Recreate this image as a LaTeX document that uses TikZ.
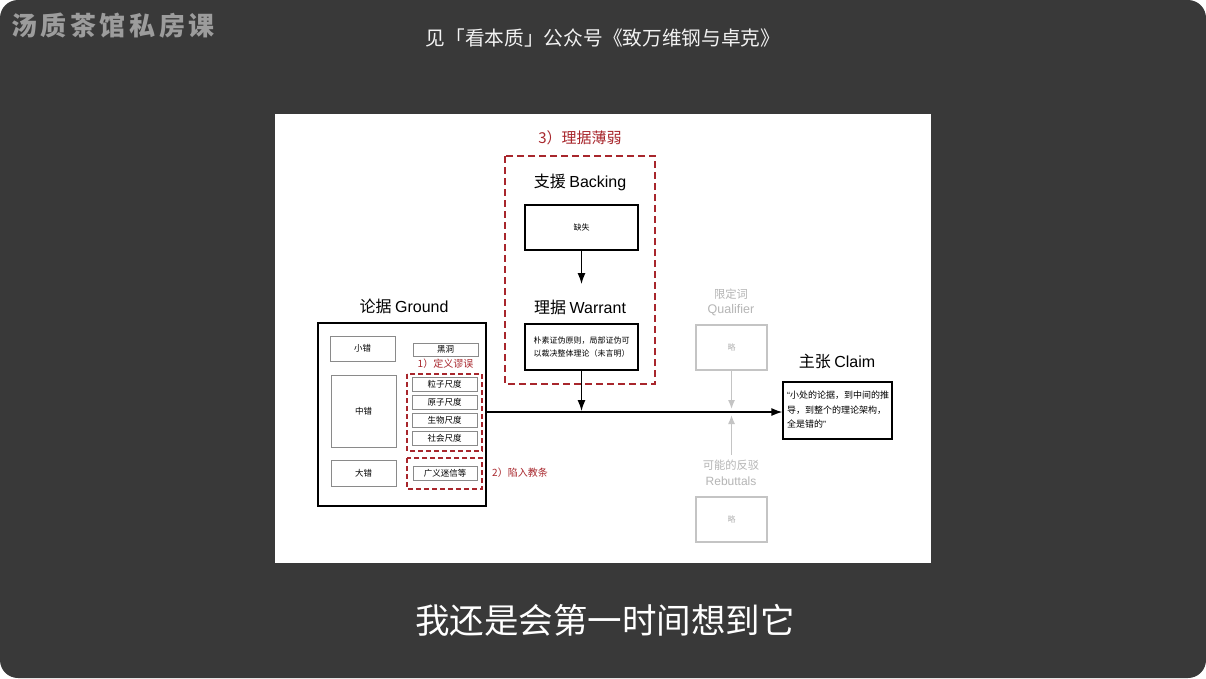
\documentclass[tikz,border=0pt]{standalone}
\usepackage{fontspec}
\setmainfont{Noto Sans CJK SC}
\newfontfamily\latf{Liberation Sans}
\usetikzlibrary{arrows.meta}
\definecolor{bgdark}{HTML}{393939}
\definecolor{redc}{HTML}{A8262C}
\definecolor{lgray}{HTML}{B5B5B5}
\definecolor{bgray}{HTML}{C4C4C4}
\definecolor{logogray}{HTML}{9C9C9C}
\definecolor{sgray}{HTML}{8A8A8A}
\tikzset{
  mainbox/.style={draw=black, line width=1.3pt, fill=white, inner sep=0pt, font=\fontsize{8}{13}\selectfont, align=center},
  subbox/.style={draw=sgray, line width=0.8pt, fill=white, inner sep=0pt, font=\fontsize{8.5}{10}\selectfont},
  graybox/.style={draw=bgray, line width=1.4pt, fill=white, inner sep=0pt, text=lgray, font=\fontsize{8}{10}\selectfont},
  title/.style={font=\fontsize{16}{18}\selectfont, inner sep=0pt},
  redtxt/.style={text=redc, inner sep=0pt},
  graytxt/.style={text=lgray, inner sep=0pt, font=\fontsize{11.3}{13}\selectfont},
  reddash/.style={draw=redc, line width=1.4pt, dash pattern=on 7pt off 4pt},
  arr/.style={line width=1.3pt, -{Latex[length=11pt,width=8pt]}},
  garr/.style={draw=bgray, line width=1.3pt, -{Latex[length=9pt,width=7pt]}},
}
\begin{document}
\begin{tikzpicture}[x=1pt,y=-1pt]
\useasboundingbox (0,0) rectangle (1206,678);
\fill[white] (0,0) rectangle (1206,678);
\fill[bgdark, rounded corners=18pt] (0,0) rectangle (1206,678);
% logo and titles
\node[anchor=west, text=logogray, inner sep=0pt, font=\fontsize{26}{28}\selectfont\bfseries] (logo) at (11,26)
  {汤\hspace{3.6pt}质\hspace{3.6pt}茶\hspace{3.6pt}馆\hspace{3.6pt}私\hspace{3.6pt}房\hspace{3.6pt}课};
\node[text=white!95!black, inner sep=0pt, font=\fontsize{19.7}{22}\selectfont] (top) at (603,38) {见「看本质」公众号《致万维钢与卓克》};
\node[text=white, inner sep=0pt, font=\fontsize{34.5}{38}\selectfont] (sub) at (605,620) {我还是会第一时间想到它};
% panel
\fill[white] (275,114) rectangle (931,563);
% warrant group
\node[redtxt, font=\fontsize{15}{17}\selectfont] (weak) at (580,138) {3）理据薄弱};
\draw[reddash] (505,156) rectangle (655,384);
\node[title] (backlbl) at (580,182) {支援 {\latf Backing}};
\node[mainbox, minimum width=113pt, minimum height=45pt] (back) at (581.5,227.5) {缺失};
\node[title] (warlbl) at (580,307) {理据 {\latf Warrant}};
\coordinate (wartop) at (581.5,284);
\node[mainbox, minimum width=113pt, minimum height=46pt] (war) at (581.5,347) {朴素证伪原则，局部证伪可\\以裁决整体理论（未言明）};
\draw[arr] (back.south) -- (wartop);
% ground
\node[title] (gndlbl) at (404,306) {论据 {\latf Ground}};
\node[draw=black, line width=1.4pt, minimum width=168pt, minimum height=183pt, inner sep=0pt] (gnd) at (402,414.5) {};
\node[subbox, minimum width=65pt, minimum height=25pt] (small) at (362.5,348.5) {小错};
\node[subbox, minimum width=65pt, minimum height=13pt] (hole) at (445.5,349.5) {黑洞};
\node[redtxt, font=\fontsize{10}{12}\selectfont] (def) at (445.5,364) {1）定义谬误};
\draw[reddash, line width=1.1pt, dash pattern=on 5pt off 3pt] (407,374) rectangle (482,451);
\node[subbox, minimum width=65pt, minimum height=14pt] (s1) at (444.5,384) {粒子尺度};
\node[subbox, minimum width=65pt, minimum height=14pt] (s2) at (444.5,402) {原子尺度};
\node[subbox, minimum width=65pt, minimum height=14pt] (s3) at (444.5,420) {生物尺度};
\node[subbox, minimum width=65pt, minimum height=14pt] (s4) at (444.5,438) {社会尺度};
\node[subbox, minimum width=65pt, minimum height=72pt] (mid) at (363.5,411) {中错};
\node[subbox, minimum width=65pt, minimum height=26pt] (big) at (363.5,473) {大错};
\draw[reddash, line width=1.1pt, dash pattern=on 5pt off 3pt] (407,458) rectangle (482,489);
\node[subbox, minimum width=64pt, minimum height=14pt] (sup) at (445,473) {广义迷信等};
\node[redtxt, font=\fontsize{10}{12}\selectfont] (dog) at (520,473) {2）陷入教条};
% claim
\node[title] (claimlbl) at (837,361) {主张 {\latf Claim}};
\node[mainbox, minimum width=109pt, minimum height=57pt] (claim) at (837.5,410.5) {};
\node[anchor=north west, inner sep=0pt, align=left, font=\fontsize{9}{14.5}\selectfont] (claimtxt) at (787,391)
  {{\latf “}小处的论据，到中间的推\\导，到整个的理论架构，\\全是错的{\latf ”}};
% main line
\coordinate (gout) at (486,412);
\coordinate (wmeet) at (581.5,411);
\draw[arr] (gout) -- (claim.west |- gout);
\draw[arr] (war.south) -- (wmeet);
% qualifier / rebuttal
\node[graytxt] (qlbl1) at (731,294) {限定词};
\node[graytxt, font=\fontsize{12.5}{14}\latf] (qlbl2) at (731,310) {Qualifier};
\node[graybox, minimum width=71pt, minimum height=45pt] (qual) at (731.5,347.5) {略};
\node[graytxt] (rlbl1) at (731,465) {可能的反驳};
\node[graytxt, font=\fontsize{12}{14}\latf] (rlbl2) at (731,481) {Rebuttals};
\node[graybox, minimum width=71pt, minimum height=45pt] (reb) at (731.5,519.5) {略};
\coordinate (qmeet) at (731.5,409);
\coordinate (rmeet) at (731.5,415);
\coordinate (rstart) at (731.5,455);
\draw[garr] (qual.south) -- (qmeet);
\draw[garr] (rstart) -- (rmeet);
\end{tikzpicture}
\end{document}
